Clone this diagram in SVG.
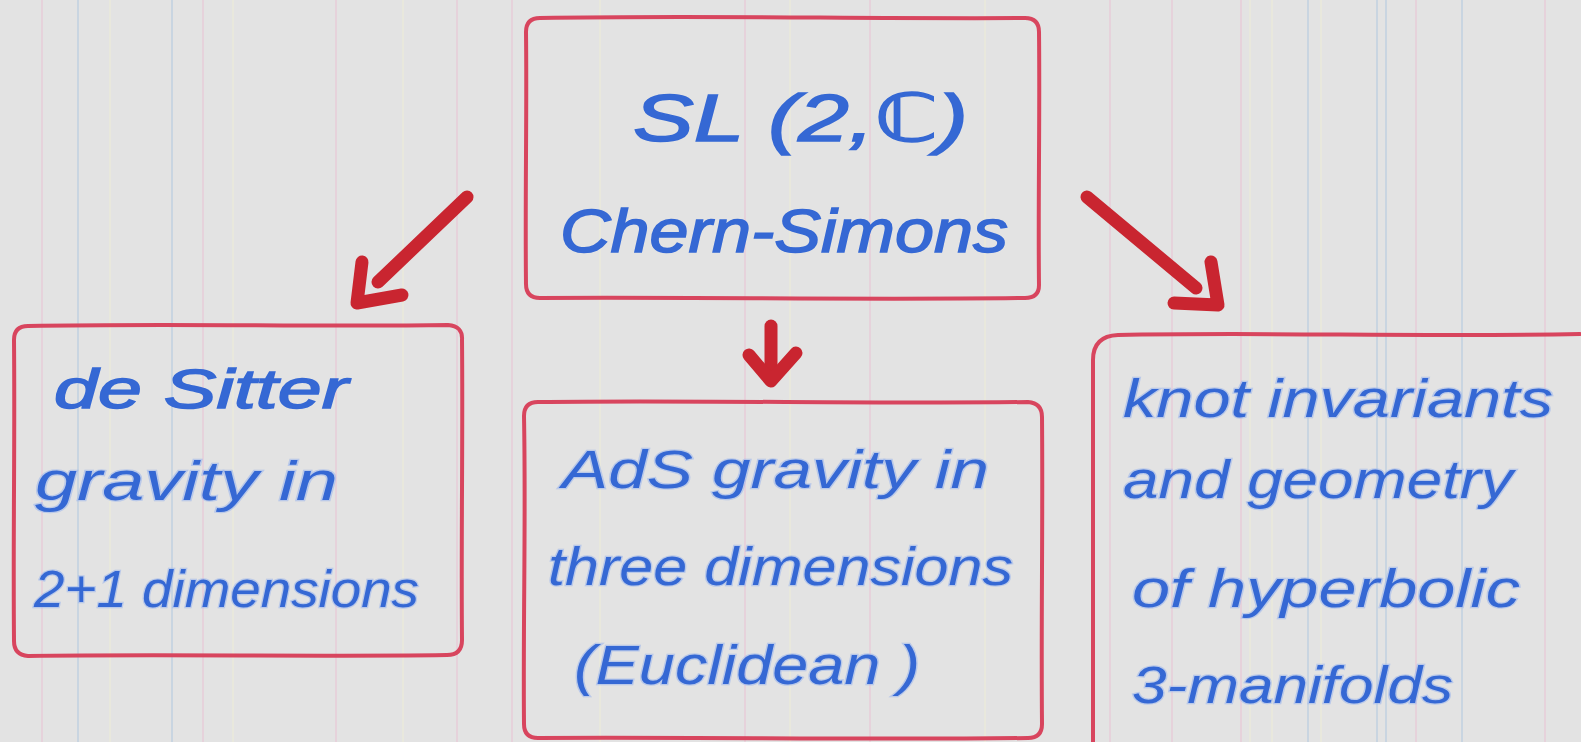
<svg xmlns="http://www.w3.org/2000/svg" width="1581" height="742" viewBox="0 0 1581 742">
<style>
.paper{fill:#e3e3e3}
.vl{stroke-width:1.2;fill:none}
.b{stroke:#b8cbe0}
.p{stroke:#e8c6d6}
.y{stroke:#ecebd8}
.box{fill:none;stroke:#d8455e;stroke-width:4;stroke-linejoin:round;stroke-linecap:round}
.arr{fill:none;stroke:#c92530;stroke-width:13;stroke-linecap:round;stroke-linejoin:round}
.t{font-family:"Liberation Sans","DejaVu Sans",sans-serif;font-style:italic;fill:#3568d4;stroke:#9fb8ec;stroke-width:2.5;paint-order:stroke;stroke-opacity:0.6}
.bold{stroke:#3568d4;stroke-width:1.5;stroke-opacity:1}
</style>
<rect class="paper" x="0" y="0" width="1581" height="742"/>
<g id="paper-lines">
<line class="vl p" x1="42" y1="0" x2="42" y2="742"/>
<line class="vl b" x1="78" y1="0" x2="78" y2="742"/>
<line class="vl y" x1="110" y1="0" x2="110" y2="742"/>
<line class="vl b" x1="172" y1="0" x2="172" y2="742"/>
<line class="vl p" x1="203" y1="0" x2="203" y2="742"/>
<line class="vl y" x1="233" y1="0" x2="233" y2="742"/>
<line class="vl p" x1="336" y1="0" x2="336" y2="742"/>
<line class="vl y" x1="403" y1="0" x2="403" y2="742"/>
<line class="vl p" x1="457" y1="0" x2="457" y2="742"/>
<line class="vl p" x1="512" y1="0" x2="512" y2="742"/>
<line class="vl y" x1="600" y1="0" x2="600" y2="742"/>
<line class="vl p" x1="745" y1="0" x2="745" y2="742"/>
<line class="vl y" x1="790" y1="0" x2="790" y2="742"/>
<line class="vl p" x1="870" y1="0" x2="870" y2="742"/>
<line class="vl y" x1="985" y1="0" x2="985" y2="742"/>
<line class="vl p" x1="1110" y1="0" x2="1110" y2="742"/>
<line class="vl p" x1="1172" y1="0" x2="1172" y2="742"/>
<line class="vl p" x1="1241" y1="0" x2="1241" y2="742"/>
<line class="vl y" x1="1250" y1="0" x2="1250" y2="742"/>
<line class="vl y" x1="1272" y1="0" x2="1272" y2="742"/>
<line class="vl b" x1="1308" y1="0" x2="1308" y2="742"/>
<line class="vl y" x1="1321" y1="0" x2="1321" y2="742"/>
<line class="vl b" x1="1377" y1="0" x2="1377" y2="742"/>
<line class="vl b" x1="1386" y1="0" x2="1386" y2="742"/>
<line class="vl p" x1="1416" y1="0" x2="1416" y2="742"/>
<line class="vl b" x1="1462" y1="0" x2="1462" y2="742"/>
<line class="vl p" x1="1545" y1="0" x2="1545" y2="742"/>
</g>
<g id="connectors">
<path class="arr" d="M467,197 L378,282"/>
<path class="arr" d="M362,262 L357,303 L402,295"/>
<path class="arr" d="M771,326 L771,374"/>
<path class="arr" d="M749,355 L771,381 L796,353"/>
<path class="arr" d="M1087,197 L1196,288"/>
<path class="arr" d="M1211,262 L1218,305 L1174,303"/>
</g>
<g id="node-top">
<path class="box" d="M540,18 C700,15 860,19 1025,18 Q1039,18 1039,32 C1040,120 1038,200 1039,285 Q1039,298 1025,298 C860,300 700,297 540,298 Q526,298 526,284 C525,200 527,110 526,32 Q526,18 540,18 Z"/>
<text class="t bold" x="633" y="141" font-size="66" textLength="335" lengthAdjust="spacingAndGlyphs">SL (2,ℂ)</text>
<text class="t bold" x="560" y="252" font-size="62" textLength="448" lengthAdjust="spacingAndGlyphs">Chern-Simons</text>
</g>
<g id="node-desitter">
<path class="box" d="M28,326 C170,323 310,327 448,325 Q463,326 462,340 C463,440 461,540 462,640 Q462,655 447,655 C310,657 170,654 28,656 Q14,655 14,641 C13,540 15,440 14,340 Q14,326 28,326 Z"/>
<text class="t bold" x="54" y="408" font-size="56" textLength="294" lengthAdjust="spacingAndGlyphs">de Sitter</text>
<text class="t" x="35" y="500" font-size="56" textLength="303" lengthAdjust="spacingAndGlyphs">gravity in</text>
<text class="t" x="34" y="607" font-size="52" textLength="385" lengthAdjust="spacingAndGlyphs">2+1 dimensions</text>
</g>
<g id="node-ads">
<path class="box" d="M538,402 C700,400 870,404 1028,402 Q1042,403 1042,417 C1043,520 1041,620 1042,724 Q1042,738 1028,738 C870,740 700,737 538,738 Q524,738 524,724 C523,620 526,520 524,416 Q524,402 538,402 Z"/>
<text class="t" x="562" y="488" font-size="54" textLength="427" lengthAdjust="spacingAndGlyphs">AdS gravity in</text>
<text class="t" x="548" y="585" font-size="54" textLength="465" lengthAdjust="spacingAndGlyphs">three dimensions</text>
<text class="t" x="574" y="684" font-size="56" textLength="346" lengthAdjust="spacingAndGlyphs">(Euclidean )</text>
</g>
<g id="node-knot">
<path class="box" d="M1118,335 C1260,332 1420,337 1580,334 M1093,360 Q1093,336 1118,335 M1093,360 C1092,480 1094,600 1093,742"/>
<text class="t" x="1123" y="417" font-size="54" textLength="430" lengthAdjust="spacingAndGlyphs">knot invariants</text>
<text class="t" x="1123" y="498" font-size="54" textLength="390" lengthAdjust="spacingAndGlyphs">and geometry</text>
<text class="t" x="1132" y="607" font-size="54" textLength="388" lengthAdjust="spacingAndGlyphs">of hyperbolic</text>
<text class="t" x="1132" y="703" font-size="52" textLength="321" lengthAdjust="spacingAndGlyphs">3-manifolds</text>
</g>
</svg>
